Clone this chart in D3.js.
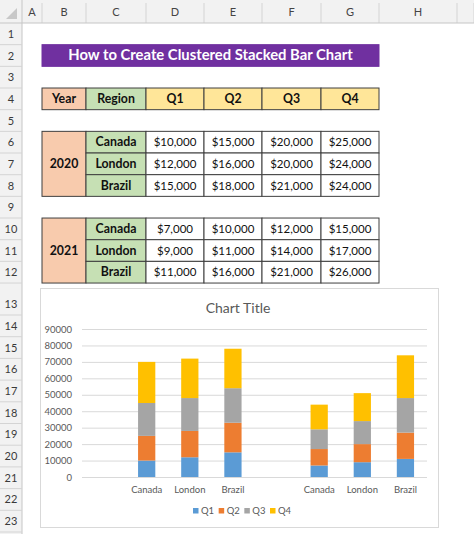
<!DOCTYPE html>
<html>
<head>
<meta charset="utf-8">
<script src="https://cdn.jsdelivr.net/npm/d3@7"></script>
<style>
  html, body { margin: 0; padding: 0; background: #fff; }
  svg { display: block; font-family: Lato, "Open Sans", sans-serif; }
</style>
</head>
<body>
<div id="wrapper"></div>
<script>
// Sheet labels
const columnLetters = ["A", "B", "C", "D", "E", "F", "G", "H", ""];
const sheetTitle = "How to Create Clustered Stacked Bar Chart";
const headerLabels = ["Year", "Region"];

// Data
const years = ["2020", "2021"];
const regions = ["Canada", "London", "Brazil"];
const quarters = ["Q1", "Q2", "Q3", "Q4"];
// one value per year/region pair: 2020 Canada, London, Brazil, 2021 Canada, London, Brazil
const q1Values = [10000, 12000, 15000, 7000, 9000, 11000];
const q2Values = [15000, 16000, 18000, 10000, 11000, 16000];
const q3Values = [20000, 20000, 21000, 12000, 14000, 21000];
const q4Values = [25000, 24000, 24000, 15000, 17000, 26000];
const yTicks = [0, 10000, 20000, 30000, 40000, 50000, 60000, 70000, 80000, 90000];
const chartTitle = "Chart Title";

const seriesValues = [q1Values, q2Values, q3Values, q4Values];
const seriesColors = ["#5b9bd5", "#ed7d31", "#a5a5a5", "#ffc000"];

function draw() {
    const W = 474, H = 534;
    const svg = d3.select("#wrapper").append("svg")
        .attr("width", W).attr("height", H);

    // grid geometry of the sheet
    const colEdges = [22, 42, 86, 146, 204, 262, 321, 379, 457, 474];
    const headerH = 23;
    const rowTop = r => r <= 13 ? 23 + (r - 1) * 21.67 : 315 + (r - 14) * 21.7;
    const rowBottom = r => r === 13 ? 315 : rowTop(r + 1);
    const colL = c => colEdges[c];
    const colR = c => colEdges[c + 1];

    // column header strip
    svg.append("rect").attr("x", 0).attr("y", 0).attr("width", W).attr("height", headerH)
        .attr("fill", "#f2f2f2");
    svg.append("rect").attr("x", 0).attr("y", 0).attr("width", 22).attr("height", H)
        .attr("fill", "#f2f2f2");
    svg.append("path").attr("d", "M17,8 L17,19 L6,19 Z").attr("fill", "#c8c8c8");

    columnLetters.forEach((l, i) => {
        svg.append("line")
            .attr("x1", colR(i)).attr("x2", colR(i)).attr("y1", 3).attr("y2", headerH)
            .attr("stroke", "#d4d4d4");
        svg.append("text")
            .attr("x", (colL(i) + colR(i)) / 2).attr("y", 15.5)
            .attr("text-anchor", "middle").attr("font-size", 11).attr("fill", "#444")
            .text(l);
    });
    svg.append("line").attr("x1", 22).attr("x2", 22).attr("y1", 0).attr("y2", H)
        .attr("stroke", "#c6c6c6");
    svg.append("line").attr("x1", 0).attr("x2", W).attr("y1", headerH).attr("y2", headerH)
        .attr("stroke", "#c6c6c6");

    // row numbers
    d3.range(1, 24).forEach(r => {
        svg.append("line")
            .attr("x1", 0).attr("x2", 22).attr("y1", rowBottom(r)).attr("y2", rowBottom(r))
            .attr("stroke", "#d4d4d4");
        svg.append("text")
            .attr("x", 11).attr("y", (r === 13 ? rowBottom(r) - 11 : (rowTop(r) + rowBottom(r)) / 2) + 4)
            .attr("text-anchor", "middle").attr("font-size", 11).attr("fill", "#3a3a3a")
            .text(r);
    });

    // cell helper
    const cells = svg.append("g");
    function cell(c1, c2, r1, r2, fill, text, opts = {}) {
        const x = colL(c1), y = rowTop(r1), w = colR(c2) - x, h = rowBottom(r2) - y;
        cells.append("rect").attr("x", x).attr("y", y).attr("width", w).attr("height", h)
            .attr("fill", fill).attr("stroke", opts.stroke || "#3f3f3f").attr("stroke-width", 1);
        cells.append("text")
            .attr("x", x + w / 2).attr("y", y + h / 2 + 4.2)
            .attr("text-anchor", "middle")
            .attr("font-size", opts.size || 11.5)
            .attr("font-weight", opts.bold ? "bold" : "normal")
            .attr("fill", opts.color || "#111")
            .text(text);
    }

    // title bar
    cell(1, 6, 2, 2, "#7030a0", sheetTitle, { bold: true, size: 14.8, color: "#fff", stroke: "#7030a0" });

    // header row
    cell(1, 1, 4, 4, "#f8cbad", headerLabels[0], { bold: true, size: 12.3 });
    cell(2, 2, 4, 4, "#c6e0b4", headerLabels[1], { bold: true, size: 12.3 });
    quarters.forEach((q, i) => cell(3 + i, 3 + i, 4, 4, "#ffe699", q, { bold: true, size: 12.3 }));

    // data blocks
    const money = d3.format("$,");
    years.forEach((yr, yi) => {
        const r0 = 6 + yi * 4;
        cell(1, 1, r0, r0 + 2, "#f8cbad", yr, { bold: true, size: 12.3 });
        regions.forEach((rg, ri) => {
            const idx = yi * regions.length + ri;
            cell(2, 2, r0 + ri, r0 + ri, "#c6e0b4", rg, { bold: true, size: 12.3 });
            seriesValues.forEach((vals, qi) =>
                cell(3 + qi, 3 + qi, r0 + ri, r0 + ri, "#fff", money(vals[idx])));
        });
    });

    // ---------------- chart ----------------
    const chart = svg.append("g");
    chart.append("rect")
        .attr("x", 40.5).attr("y", 288.5).attr("width", 398).attr("height", 239)
        .attr("fill", "#fff").attr("stroke", "#d9d9d9");

    chart.append("text")
        .attr("x", 238).attr("y", 313)
        .attr("text-anchor", "middle").attr("font-size", 14).attr("fill", "#595959")
        .text(chartTitle);

    // categories with an empty slot before each year cluster
    const keys = [];
    years.forEach(yr => {
        keys.push("gap-" + yr);
        regions.forEach(rg => keys.push(yr + "-" + rg));
    });
    const rows = [];
    years.forEach((yr, yi) => regions.forEach((rg, ri) => {
        const idx = yi * regions.length + ri;
        const row = { key: yr + "-" + rg, region: rg };
        quarters.forEach((q, qi) => row[q] = seriesValues[qi][idx]);
        rows.push(row);
    }));

    const x = d3.scaleBand().domain(keys).range([82, 427]).paddingInner(0.6).paddingOuter(0.3);
    const y = d3.scaleLinear().domain([0, 90000]).range([477, 329]);

    // gridlines and y labels
    chart.append("g")
        .attr("transform", "translate(82,0)")
        .call(d3.axisLeft(y).tickValues(yTicks).tickSize(-345).tickFormat(""))
        .call(g => g.select(".domain").remove())
        .call(g => g.selectAll("line").attr("stroke", "#d9d9d9"));

    chart.append("g")
        .attr("transform", "translate(72,0)")
        .call(d3.axisLeft(y).tickValues(yTicks).tickSize(0).tickPadding(0).tickFormat(d3.format("d")))
        .call(g => g.select(".domain").remove())
        .call(g => g.selectAll("text").attr("font-size", 9.5).attr("fill", "#595959")
            .attr("font-family", "Lato, sans-serif"));

    // stacked bars
    const stack = d3.stack().keys(quarters)(rows);
    chart.append("g").selectAll("g")
        .data(stack).join("g")
        .attr("fill", (d, i) => seriesColors[i])
        .selectAll("rect")
        .data(d => d).join("rect")
        .attr("x", d => x(d.data.key))
        .attr("width", x.bandwidth())
        .attr("y", d => y(d[1]))
        .attr("height", d => y(d[0]) - y(d[1]));

    // x labels
    chart.append("g")
        .attr("transform", "translate(0,477)")
        .call(d3.axisBottom(x).tickSize(0).tickPadding(9)
            .tickFormat(k => k.startsWith("gap") ? "" : k.split("-")[1]))
        .call(g => g.select(".domain").remove())
        .call(g => g.selectAll("text").attr("font-size", 9.5).attr("fill", "#595959")
            .attr("font-family", "Lato, sans-serif"));

    // legend
    const lx = d3.scalePoint().domain(quarters).range([193, 270]);
    const legend = chart.append("g").selectAll("g")
        .data(quarters).join("g")
        .attr("transform", q => "translate(" + lx(q) + ",511)");
    legend.append("rect")
        .attr("x", 0).attr("y", -3).attr("width", 5.5).attr("height", 5.5)
        .attr("fill", (q, i) => seriesColors[i]);
    legend.append("text")
        .attr("x", 8).attr("y", 3)
        .attr("font-size", 9.5).attr("fill", "#595959")
        .text(q => q);
}

window.addEventListener("load", draw);
</script>
</body>
</html>
